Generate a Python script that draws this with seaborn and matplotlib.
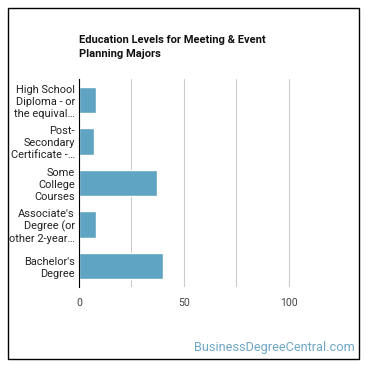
import matplotlib
matplotlib.use("Agg")
import matplotlib.pyplot as plt
import seaborn as sns
import pandas as pd
from matplotlib.patches import Rectangle

# Data
categories = [
    "High School\nDiploma - or\nthe equival…",
    "Post-\nSecondary\nCertificate -…",
    "Some\nCollege\nCourses",
    "Associate's\nDegree (or\nother 2-year…",
    "Bachelor's\nDegree",
]
shares = [8, 7, 37, 8, 40]
x_ticks = [0, 50, 100]

df = pd.DataFrame({"level": categories, "pct": shares})

sns.set_style("white")
plt.rcParams["font.family"] = ["Roboto", "DejaVu Sans"]

fig = plt.figure(figsize=(3.7, 3.7), dpi=100)
ax = fig.add_axes([79 / 370, 1 - 287 / 370, (341 - 79) / 370, (287 - 79) / 370])

sns.barplot(data=df, x="pct", y="level", color="#5FA4C2", saturation=1,
            width=0.63, ax=ax, orient="h")

ax.set_xlim(0, 125)
ax.set_xticks(x_ticks)
ax.set_xticks([25, 50, 75, 100], minor=True)
ax.grid(axis="x", which="both", color="#cccccc", linewidth=0.8)
ax.set_axisbelow(True)
for s in ["top", "right", "bottom"]:
    ax.spines[s].set_visible(False)
ax.spines["left"].set_color("black")
ax.spines["left"].set_linewidth(0.8)
ax.tick_params(axis="y", which="both", length=0, labelsize=7.9, colors="#222222", pad=3)
ax.tick_params(axis="x", which="both", length=0, labelsize=7.6, pad=8, colors="#444444")
ax.set_xlabel("")
ax.set_ylabel("")
for lbl in ax.get_yticklabels():
    lbl.set_linespacing(1.25)

fig.text(79 / 370, 1 - 35 / 370, "Education Levels for Meeting & Event\nPlanning Majors",
         fontsize=8.0, fontweight="bold", va="top", ha="left", color="#111111",
         linespacing=1.45)

fig.text(355 / 370, 1 - 348 / 370, "BusinessDegreeCentral.com", fontsize=9.2,
         color="#6FA7C7", ha="right", va="center")

fig.patches.append(Rectangle((8 / 370, 1 - 359 / 370), 351 / 370, 351 / 370,
                             transform=fig.transFigure, fill=False,
                             edgecolor="black", linewidth=1))

fig.savefig("out.png", dpi=100)
